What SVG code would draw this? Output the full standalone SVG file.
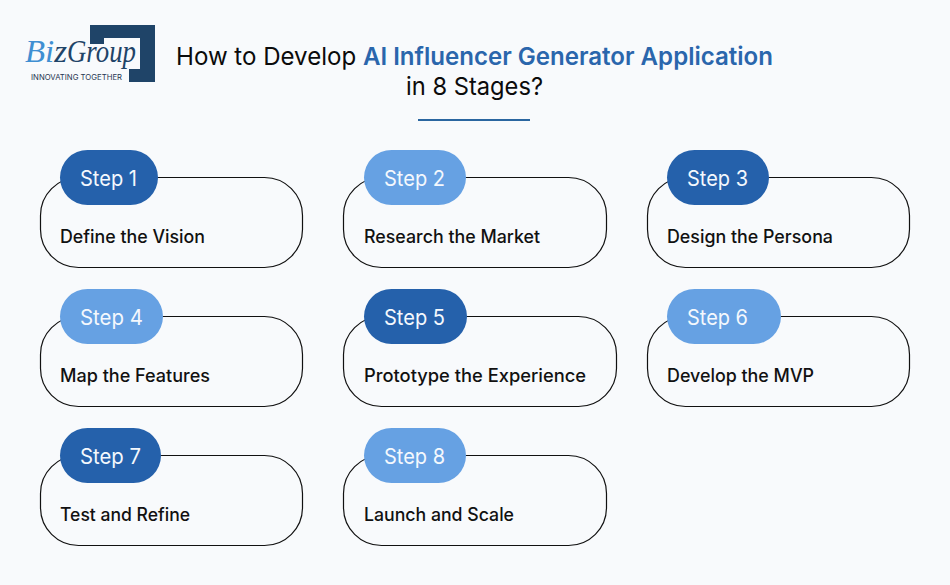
<svg xmlns="http://www.w3.org/2000/svg" width="950" height="585" viewBox="0 0 950 585">
<style>
.card{fill:#f8fafc;stroke:#111;stroke-width:1.2}
.dark{fill:#2561ab}
.light{fill:#66a1e3}
text{font-family:Inter,"Liberation Sans",sans-serif}
.step{fill:#f4f8fd;font-size:21px}
.label{fill:#111;font-size:18px;font-weight:500}
.title{font-size:24.5px;fill:#0b0b0b}
</style>
<rect width="950" height="585" fill="#f8fafc"/>
<g id="logo">
<path d="M90 25H155V82H129V69H140V38H104V44H90Z" fill="#1f4468"/>
<text x="25" y="62" font-size="32" font-style="italic" style="font-family:'Liberation Serif',serif" fill="#3f8fd2" textLength="42" lengthAdjust="spacingAndGlyphs">Bi<tspan fill="#1f4468">z</tspan></text>
<text x="67" y="62" font-size="32" font-style="italic" style="font-family:'Liberation Serif',serif" fill="#1f4468" textLength="69" lengthAdjust="spacingAndGlyphs">Group</text>
<text x="31" y="80" font-size="7.500" fill="#1f3550" textLength="91" lengthAdjust="spacingAndGlyphs">INNOVATING TOGETHER</text>
</g>
<g id="title">
<text class="title" x="176" y="65" textLength="597" lengthAdjust="spacingAndGlyphs">How to Develop <tspan fill="#2a66ac" font-weight="600">AI Influencer Generator Application</tspan></text>
<text class="title" x="474.500" y="95" text-anchor="middle" textLength="137" lengthAdjust="spacingAndGlyphs">in 8 Stages?</text>
<rect x="418" y="119" width="112" height="2" fill="#2a66a0"/>
</g>
<g id="step1"><rect class="card" x="40.500" y="177.500" width="262" height="90" rx="38"/><rect class="dark" x="60" y="150" width="98" height="55" rx="27.500"/><text class="step" x="80" y="186" textLength="57" lengthAdjust="spacingAndGlyphs">Step 1</text><text class="label" x="60" y="243" textLength="145" lengthAdjust="spacingAndGlyphs">Define the Vision</text></g>
<g id="step2"><rect class="card" x="343.500" y="177.500" width="263" height="90" rx="38"/><rect class="light" x="364" y="150" width="102" height="55" rx="27.500"/><text class="step" x="384" y="186" textLength="61" lengthAdjust="spacingAndGlyphs">Step 2</text><text class="label" x="364" y="243" textLength="176" lengthAdjust="spacingAndGlyphs">Research the Market</text></g>
<g id="step3"><rect class="card" x="647.500" y="177.500" width="262" height="90" rx="38"/><rect class="dark" x="667" y="150" width="102" height="55" rx="27.500"/><text class="step" x="687" y="186" textLength="61" lengthAdjust="spacingAndGlyphs">Step 3</text><text class="label" x="667" y="243" textLength="166" lengthAdjust="spacingAndGlyphs">Design the Persona</text></g>
<g id="step4"><rect class="card" x="40.500" y="316.500" width="262" height="90" rx="38"/><rect class="light" x="60" y="289" width="103" height="55" rx="27.500"/><text class="step" x="80" y="325" textLength="63" lengthAdjust="spacingAndGlyphs">Step 4</text><text class="label" x="60" y="382" textLength="150" lengthAdjust="spacingAndGlyphs">Map the Features</text></g>
<g id="step5"><rect class="card" x="343.500" y="316.500" width="273" height="90" rx="38"/><rect class="dark" x="364" y="289" width="103" height="55" rx="27.500"/><text class="step" x="384" y="325" textLength="61" lengthAdjust="spacingAndGlyphs">Step 5</text><text class="label" x="364" y="382" textLength="222" lengthAdjust="spacingAndGlyphs">Prototype the Experience</text></g>
<g id="step6"><rect class="card" x="647.500" y="316.500" width="262" height="90" rx="38"/><rect class="light" x="667" y="289" width="114" height="55" rx="27.500"/><text class="step" x="687" y="325" textLength="61" lengthAdjust="spacingAndGlyphs">Step 6</text><text class="label" x="667" y="382" textLength="147" lengthAdjust="spacingAndGlyphs">Develop the MVP</text></g>
<g id="step7"><rect class="card" x="40.500" y="455.500" width="262" height="90" rx="38"/><rect class="dark" x="60" y="428" width="101" height="55" rx="27.500"/><text class="step" x="80" y="464" textLength="61" lengthAdjust="spacingAndGlyphs">Step 7</text><text class="label" x="60" y="521" textLength="130" lengthAdjust="spacingAndGlyphs">Test and Refine</text></g>
<g id="step8"><rect class="card" x="343.500" y="455.500" width="263" height="90" rx="38"/><rect class="light" x="364" y="428" width="102" height="55" rx="27.500"/><text class="step" x="384" y="464" textLength="61" lengthAdjust="spacingAndGlyphs">Step 8</text><text class="label" x="364" y="521" textLength="150" lengthAdjust="spacingAndGlyphs">Launch and Scale</text></g>
<g id="connectors"></g>
</svg>
